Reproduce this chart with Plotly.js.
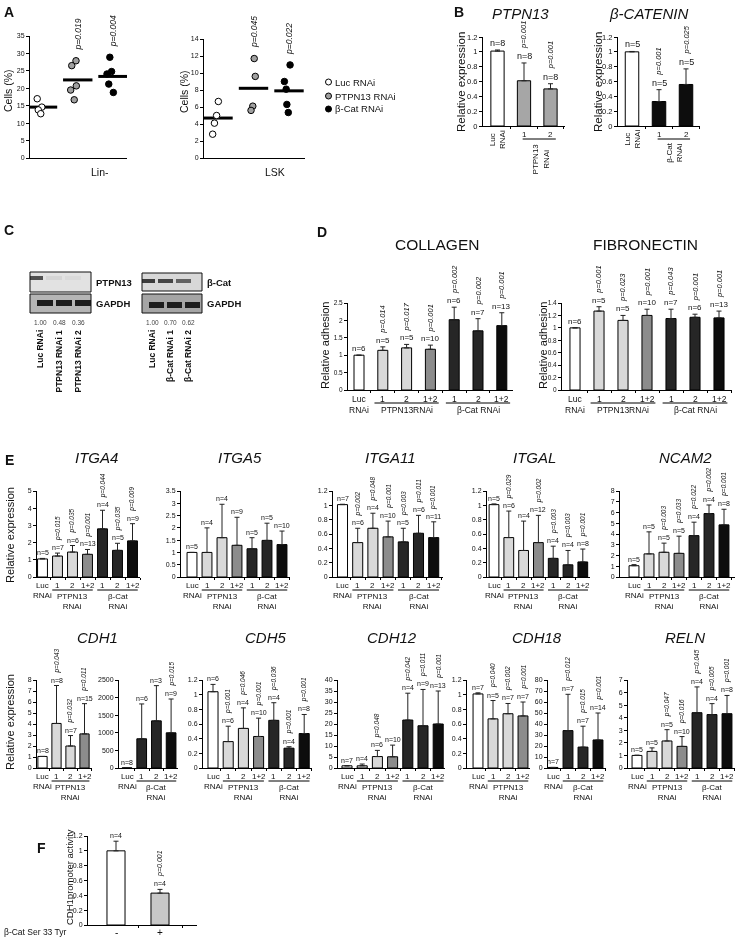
<!DOCTYPE html>
<html>
<head>
<meta charset="utf-8">
<script src="https://cdn.plot.ly/plotly-3.0.1.min.js"></script>
<style>body{margin:0;background:#fff}#fig{width:750px;height:937px;will-change:transform}</style>
</head>
<body>
<div id="fig"></div>
<script>
// ===== datos =====
// A: % de células por animal
const linPts  = [[17.0, 14.6, 13.8, 12.7], [27.9, 26.5, 20.7, 19.5, 16.7], [28.9, 24.8, 24.1, 21.2, 18.8]];
const linMean = [14.6, 22.4, 23.4];
const linP    = ['', 'p=0.019', 'p=0.004'];
const lskPts  = [[6.65, 5.0, 4.1, 2.8], [11.7, 9.6, 6.1, 5.6], [10.95, 9.0, 8.1, 6.3, 5.35]];
const lskMean = [4.7, 8.2, 7.9];
const lskP    = ['', 'p=0.045', 'p=0.022'];
const legendA = ['Luc RNAi', 'PTPN13 RNAi', 'β-Cat RNAi'];

// B
const ptpnVal = [1.01, 0.61, 0.50], ptpnErr = [0.015, 0.24, 0.07];
const ptpnN = ['n=8', 'n=8', 'n=8'], ptpnP = ['', 'p=0.001', 'p=0.001'];
const bcatVal = [1.00, 0.33, 0.56], bcatErr = [0.005, 0.16, 0.21];
const bcatN = ['n=5', 'n=5', 'n=5'], bcatP = ['', 'p=0.001', 'p=0.025'];
const labB = ['Luc<br>RNAi', '1', '2'];

// C: western blots
const quant1 = ['1.00', '0.48', '0.36'], quant2 = ['1.00', '0.70', '0.62'];
const lanes1 = ['Luc RNAi', 'PTPN13 RNAi 1', 'PTPN13 RNAi 2'];
const lanes2 = ['Luc RNAi', 'β-Cat RNAi 1', 'β-Cat RNAi 2'];
const bandPTPN13 = [0.7, 0.06, 0.04], bandGAPDH1 = [0.95, 0.95, 0.95];
const bandBCat = [0.8, 0.75, 0.6], bandGAPDH2 = [0.95, 0.95, 0.95];

// D: adhesión
const colVal = [1.0, 1.14, 1.21, 1.17, 2.02, 1.70, 1.85];
const colErr = [0, 0.10, 0.10, 0.12, 0.36, 0.35, 0.37];
const colN = ['n=6', 'n=5', 'n=5', 'n=10', 'n=6', 'n=7', 'n=13'];
const colP = ['', 'p=0.014', 'p=0.017', 'p=0.001', 'p=0.002', 'p=0.002', 'p=0.001'];
const fibVal = [1.0, 1.27, 1.12, 1.20, 1.15, 1.17, 1.16];
const fibErr = [0, 0.07, 0.08, 0.10, 0.15, 0.05, 0.11];
const fibN = ['n=6', 'n=5', 'n=5', 'n=10', 'n=7', 'n=6', 'n=13'];
const fibP = ['', 'p=0.001', 'p=0.023', 'p=0.001', 'p=0.043', 'p=0.001', 'p=0.001'];

// E: expresión relativa
const itga4Val = [1.05, 1.22, 1.45, 1.32, 2.80, 1.55, 2.10];
const itga4Err = [0.03, 0.17, 0.38, 0.28, 1.08, 0.41, 1.00];
const itga4N = ['n=5', 'n=7', 'n=6', 'n=13', 'n=4', 'n=5', 'n=9'];
const itga4P = ['', 'p=0.015', 'p=0.035', 'p=0.001', 'p=0.044', 'p=0.035', 'p=0.009'];
const itga5Val = [1.0, 1.0, 1.60, 1.29, 1.15, 1.49, 1.32];
const itga5Err = [0, 1.0, 1.36, 1.14, 0.45, 0.70, 0.55];
const itga5N = ['n=5', 'n=4', 'n=4', 'n=9', 'n=5', 'n=5', 'n=10'];
const itga5P = ['', '', '', '', '', '', ''];
const itga11Val = [1.01, 0.48, 0.68, 0.56, 0.49, 0.61, 0.55];
const itga11Err = [0.005, 0.20, 0.21, 0.22, 0.19, 0.25, 0.22];
const itga11N = ['n=7', 'n=6', 'n=4', 'n=10', 'n=5', 'n=6', 'n=11'];
const itga11P = ['', 'p=0.002', 'p=0.048', 'p=0.001', 'p=0.003', 'p=0.011', 'p=0.001'];
const itgalVal = [1.01, 0.55, 0.37, 0.48, 0.26, 0.17, 0.21];
const itgalErr = [0.01, 0.37, 0.41, 0.38, 0.17, 0.20, 0.18];
const itgalN = ['n=5', 'n=6', 'n=4', 'n=12', 'n=4', 'n=4', 'n=8'];
const itgalP = ['', 'p=0.029', '', 'p=0.002', 'p=0.003', 'p=0.003', 'p=0.001'];
const ncam2Val = [1.05, 2.15, 2.30, 2.20, 3.85, 5.90, 4.85];
const ncam2Err = [0.1, 2.05, 0.85, 1.60, 1.25, 0.80, 1.45];
const ncam2N = ['n=5', 'n=5', 'n=5', 'n=5', 'n=4', 'n=4', 'n=8'];
const ncam2P = ['', '', 'p=0.003', 'p=0.033', 'p=0.022', 'p=0.002', 'p=0.001'];

const cdh1aVal = [1.05, 4.05, 2.0, 3.1], cdh1aErr = [0, 3.45, 0.95, 2.75];
const cdh1aN = ['n=8', 'n=8', 'n=7', 'n=15'], cdh1aP = ['', 'p=0.043', 'p=0.032', 'p=0.011'];
const cdh1bVal = [5, 830, 1340, 1000], cdh1bErr = [0, 990, 1000, 960];
const cdh1bN = ['n=8', 'n=6', 'n=3', 'n=9'], cdh1bP = ['', '', '', 'p=0.015'];
const cdh5Val = [1.04, 0.36, 0.54, 0.43, 0.65, 0.27, 0.47];
const cdh5Err = [0.10, 0.21, 0.28, 0.25, 0.24, 0.02, 0.26];
const cdh5N = ['n=6', 'n=6', 'n=4', 'n=10', 'n=4', 'n=4', 'n=8'];
const cdh5P = ['', 'p=0.001', 'p=0.046', 'p=0.001', 'p=0.036', 'p=0.001', 'p=0.001'];
const cdh12Val = [1.0, 1.0, 5.2, 5.1, 21.8, 19.2, 20.0];
const cdh12Err = [0, 0.8, 2.8, 5.3, 12.2, 16.5, 15.0];
const cdh12N = ['n=7', 'n=4', 'n=6', 'n=10', 'n=4', 'n=9', 'n=13'];
const cdh12P = ['', '', 'p=0.048', '', 'p=0.042', 'p=0.011', 'p=0.001'];
const cdh18aVal = [1.01, 0.67, 0.74, 0.71], cdh18aErr = [0.015, 0.25, 0.14, 0.19];
const cdh18aN = ['n=7', 'n=5', 'n=7', 'n=7'], cdh18aP = ['', 'p=0.040', 'p=0.002', 'p=0.001'];
const cdh18bVal = [0.5, 34, 19, 25.5], cdh18bErr = [0, 33, 19, 24.5];
const cdh18bN = ['n=7', 'n=7', 'n=7', 'n=14'], cdh18bP = ['', 'p=0.012', 'p=0.015', 'p=0.001'];
const relnVal = [1.0, 1.32, 2.15, 1.72, 4.40, 4.25, 4.32];
const relnErr = [0.02, 0.28, 0.90, 0.78, 2.05, 0.87, 1.45];
const relnN = ['n=5', 'n=5', 'n=5', 'n=10', 'n=4', 'n=4', 'n=8'];
const relnP = ['', '', 'p=0.047', 'p=0.016', 'p=0.045', 'p=0.005', 'p=0.001'];

// F
const fVal = [1.0, 0.43], fErr = [0.13, 0.05], fN = ['n=4', 'n=4'], fP = ['', 'p=0.001'];
const fLab = ['-', '+'];

// etiquetas de categorías
const LAB7 = ['Luc<br>RNAi', '1', '2', '1+2', '1', '2', '1+2'];
const GRP7 = [[1, 3, 'PTPN13<br>RNAi'], [4, 6, 'β-Cat<br>RNAi']];
const GRP7D = [[1, 3, 'PTPN13RNAi'], [4, 6, 'β-Cat RNAi']];
const LAB4 = ['Luc<br>RNAi', '1', '2', '1+2'];
const GRP4P = [[1, 3, 'PTPN13<br>RNAi']];
const GRP4B = [[1, 3, 'β-Cat<br>RNAi']];

// ===== estilo =====
const FONT = 'Liberation Sans, Arial, sans-serif';
const INK = '#111';
const PAL = { w: '#ffffff', l: '#d9d9d9', m: '#8c8c8c', d: '#262626', k: '#0d0d0d', g: '#a6a6a6', f: '#c8c8c8' };
const COL7 = ['w', 'l', 'l', 'm', 'd', 'd', 'k'];
const COL4P = ['w', 'l', 'l', 'm'];
const COL4B = ['w', 'd', 'd', 'k'];
const DOT_COL = ['#ffffff', '#a0a0a0', '#000000'];
const JIT_LIN = [[-0.15, -0.02, -0.12, -0.05], [-0.05, -0.17, -0.04, -0.2, -0.1], [-0.09, -0.04, -0.17, -0.12, 0.01]];
const JIT_LSK = [[0.01, -0.04, -0.1, -0.15], [0.02, 0.05, -0.02, -0.07], [0.03, -0.13, -0.08, -0.06, -0.02]];

const W = 750, H = 937;
const fx = p => p / W;
const fy = p => 1 - p / H;

const traces = [], annotations = [], shapes = [];
const layout = {
  width: W, height: H, margin: { l: 0, r: 0, t: 0, b: 0 }, showlegend: false,
  font: { family: FONT, color: INK },
  paper_bgcolor: '#fff', plot_bgcolor: 'rgba(0,0,0,0)',
  bargap: 0
};

let axN = 0;
function addAxes(g, xr, yr, xo, yo) {
  axN++;
  const s = axN === 1 ? '' : String(axN);
  const base = { showline: true, linecolor: '#000', linewidth: 1, showgrid: false, zeroline: false,
                 tickcolor: '#000', tickfont: { size: 7, color: INK }, fixedrange: true };
  layout['xaxis' + s] = Object.assign({}, base, { domain: [fx(g.x0), fx(g.x1)], range: xr, anchor: 'y' + s }, xo);
  layout['yaxis' + s] = Object.assign({}, base, { domain: [fy(g.yBot), fy(g.yTop)], range: yr, anchor: 'x' + s,
                 ticks: 'outside', ticklen: 3 }, yo);
  return { x: 'x' + s, y: 'y' + s };
}

// anotación genérica (centrada por defecto)
function note(o) {
  const a = Object.assign({ showarrow: false, xanchor: 'center', yanchor: 'middle' }, o);
  a.font = Object.assign({ color: INK }, o.font || {});
  annotations.push(a);
}
function txt(x, y, text, size, extra) {
  note(Object.assign({ xref: 'paper', yref: 'paper', x: fx(x), y: fy(y), text: text, font: { size: size } }, extra || {}));
}

function barChart(c) {
  const g = c.g;
  const r0 = (g.x0 - g.c0) / g.s, r1 = (g.x1 - g.c0) / g.s;
  const idx = c.vals.map((_, i) => i);
  const ax = addAxes(g, [r0, r1], [0, g.ymax],
    { tickvals: idx.map(i => i + 0.5), ticks: 'outside', ticklen: 2, showticklabels: false },
    { dtick: g.dtick, tickfont: { size: g.tf || 7, color: INK } });
  traces.push({
    type: 'bar', x: idx, y: c.vals, width: g.bw || 0.66, xaxis: ax.x, yaxis: ax.y,
    marker: { color: c.cols.map(k => PAL[k]), line: { color: '#000', width: 1 } },
    error_y: { type: 'data', symmetric: false, array: c.errs, arrayminus: c.errs.map(() => 0),
               color: '#222', thickness: 1, width: g.ew || 2.5 },
    hoverinfo: 'skip'
  });
  const nf = g.nf || 7, pf = g.pf || 6.5;
  idx.forEach(i => {
    const top = c.vals[i] + c.errs[i];
    if (c.n[i]) note({ xref: ax.x, yref: ax.y, x: i, y: top, text: c.n[i], yanchor: 'bottom', font: { size: nf } });
    if (c.p[i]) note({ xref: ax.x, yref: ax.y, x: i, y: top, text: '<i>' + c.p[i] + '</i>',
      textangle: -90, yanchor: 'bottom', yshift: nf + 3, font: { size: pf } });
  });
  return ax;
}

function catLabels(ax, g, labels, groups, fs) {
  labels.forEach((t, i) => note({ xref: ax.x, yref: 'paper', x: i, y: fy(g.yBot + 2),
    yanchor: 'top', text: t, font: { size: fs } }));
  groups.forEach(([a, b, t]) => {
    shapes.push({ type: 'line', xref: ax.x, yref: 'paper', x0: a - 0.35, x1: b + 0.35,
      y0: fy(g.yBot + 13), y1: fy(g.yBot + 13), line: { color: '#000', width: 1 } });
    note({ xref: ax.x, yref: 'paper', x: (a + b) / 2, y: fy(g.yBot + 12.5),
      yanchor: 'top', text: t, font: { size: fs } });
  });
}

// ===== A =====
function dotChart(g, pts, means, jit, pv) {
  const r0 = (g.x0 - g.c0) / g.s, r1 = (g.x1 - g.c0) / g.s;
  const ax = addAxes(g, [r0, r1], [0, g.ymax], { showticklabels: false, ticks: '' }, { dtick: g.dtick });
  traces.push({ type: 'scatter', mode: 'markers', x: means.map((_, i) => i), y: means, xaxis: ax.x, yaxis: ax.y,
    marker: { symbol: 'line-ew', size: 21, line: { color: '#000', width: 3 } }, hoverinfo: 'skip' });
  pts.forEach((grp, i) => traces.push({ type: 'scatter', mode: 'markers', xaxis: ax.x, yaxis: ax.y,
    x: grp.map((_, j) => i + jit[i][j]), y: grp,
    marker: { size: 6.5, color: DOT_COL[i], line: { color: '#000', width: 1 } }, hoverinfo: 'skip' }));
  pv.forEach((p, i) => {
    if (p) note({ xref: ax.x, yref: ax.y, x: i, y: Math.max(...pts[i]), text: '<i>' + p + '</i>',
      textangle: -90, yanchor: 'bottom', yshift: 8, font: { size: 8.5 } });
  });
  return ax;
}

txt(2, 2, '<b>A</b>', 14, { xanchor: 'left', yanchor: 'top' });
dotChart({ x0: 30, x1: 127, yTop: 36, yBot: 158, c0: 42.5, s: 35.25, ymax: 35, dtick: 5 }, linPts, linMean, JIT_LIN, linP);
dotChart({ x0: 204, x1: 305, yTop: 39, yBot: 158, c0: 218, s: 35.5, ymax: 14, dtick: 2 }, lskPts, lskMean, JIT_LSK, lskP);
txt(100, 172, 'Lin-', 10.5);
txt(275, 172, 'LSK', 10.5);
txt(8, 91, 'Cells (%)', 10.5, { textangle: -90 });
txt(184, 92, 'Cells (%)', 10.5, { textangle: -90 });
[82, 96, 109].forEach((yy, i) => {
  shapes.push({ type: 'circle', xref: 'paper', yref: 'paper', x0: fx(325.5), x1: fx(331.5), y0: fy(yy + 3), y1: fy(yy - 3),
    fillcolor: DOT_COL[i], line: { color: '#000', width: 1 } });
  txt(333, yy, legendA[i], 9.5, { xanchor: 'left' });
});

// ===== B =====
txt(452, 2, '<b>B</b>', 14, { xanchor: 'left', yanchor: 'top' });
txt(520, 14, '<i>PTPN13</i>', 15);
txt(648, 14, '<i>β-CATENIN</i>', 15);
function bChart(g, vals, errs, n, p, cols, grp, gx, lx) {
  const ax = barChart({ g, vals, errs, n, p, cols });
  labB.forEach((t, i) => note({ xref: ax.x, yref: 'paper', x: i, y: fy(g.yBot + 2), yanchor: 'top',
    text: t, textangle: i === 0 ? -90 : 0, font: { size: 8 } }));
  shapes.push({ type: 'line', xref: ax.x, yref: 'paper', x0: lx[0], x1: lx[1], y0: fy(g.yBot + 13), y1: fy(g.yBot + 13),
    line: { color: '#000', width: 1 } });
  note({ xref: ax.x, yref: 'paper', x: gx, y: fy(g.yBot + 15), yanchor: 'top', text: grp,
    textangle: -90, font: { size: 8 } });
}
const gB1 = { x0: 483, x1: 565, yTop: 37, yBot: 126, c0: 497.5, s: 26.5, ymax: 1.2, dtick: 0.2, bw: 0.5, nf: 9, pf: 7.5, tf: 7.5 };
const gB2 = { x0: 618, x1: 700, yTop: 37, yBot: 126, c0: 632, s: 27, ymax: 1.2, dtick: 0.2, bw: 0.5, nf: 9, pf: 7.5, tf: 7.5 };
bChart(gB1, ptpnVal, ptpnErr, ptpnN, ptpnP, ['w', 'g', 'g'], 'PTPN13<br>RNAi', 1.64, [0.95, 2.2]);
bChart(gB2, bcatVal, bcatErr, bcatN, bcatP, ['w', 'k', 'k'], 'β-Cat<br>RNAi', 1.55, [0.95, 2.15]);
txt(461, 82, 'Relative expression', 11.5, { textangle: -90 });
txt(598, 82, 'Relative expression', 11.5, { textangle: -90 });

// ===== C =====
txt(2, 220, '<b>C</b>', 14, { xanchor: 'left', yanchor: 'top' });
function blot(g, rows, quant, lanes) {
  const r0 = (g.x0 - g.c0) / g.s, r1 = (g.x1 - g.c0) / g.s;
  const ax = addAxes(g, [r0, r1], [0, g.yBot - g.yTop], { visible: false }, { visible: false });
  rows.forEach(row => {
    shapes.push({ type: 'rect', xref: 'paper', yref: 'paper', x0: fx(g.x0), x1: fx(g.x1), y0: fy(row.bot), y1: fy(row.top),
      fillcolor: row.bg, line: { color: '#111', width: 1 }, layer: 'below' });
    traces.push({ type: 'bar', x: row.band.map((_, i) => i), y: row.band.map(() => row.h), base: row.c - row.h / 2,
      width: 0.85, xaxis: ax.x, yaxis: ax.y, hoverinfo: 'skip',
      marker: { color: row.band.map(a => 'rgba(20,20,20,' + a + ')'), line: { width: 0 } } });
    txt(g.x1 + 3, (row.top + row.bot) / 2, '<b>' + row.name + '</b>', 9.5, { xanchor: 'left' });
  });
  quant.forEach((q, i) => note({ xref: ax.x, yref: 'paper', x: i, y: fy(322), text: q, font: { size: 6.5, color: '#444' } }));
  lanes.forEach((t, i) => note({ xref: ax.x, yref: 'paper', x: i, y: fy(328), yanchor: 'top',
    text: '<b>' + t + '</b>', textangle: -90, font: { size: 8.5 } }));
}
blot({ x0: 30, x1: 91, yTop: 272, yBot: 313, c0: 40, s: 19 }, [
  { top: 272, bot: 292, bg: '#e2e2e2', c: 35, h: 3.5, band: bandPTPN13, name: 'PTPN13' },
  { top: 294, bot: 313, bg: '#b5b5b5', c: 10, h: 6, band: bandGAPDH1, name: 'GAPDH' }
], quant1, lanes1);
blot({ x0: 142, x1: 202, yTop: 272, yBot: 313, c0: 152, s: 18 }, [
  { top: 273, bot: 291, bg: '#d8d8d8', c: 32, h: 3.5, band: bandBCat, name: 'β-Cat' },
  { top: 294, bot: 313, bg: '#a5a5a5', c: 8, h: 6, band: bandGAPDH2, name: 'GAPDH' }
], quant2, lanes2);

// ===== D =====
txt(315, 222, '<b>D</b>', 14, { xanchor: 'left', yanchor: 'top' });
txt(437, 245, 'COLLAGEN', 15.5);
txt(645, 245, 'FIBRONECTIN', 15.5);
const gD1 = { x0: 348, x1: 513, yTop: 303, yBot: 390, c0: 359, s: 23.8, ymax: 2.5, dtick: 0.5, bw: 0.42, nf: 8, pf: 7.5, tf: 6.5 };
const gD2 = { x0: 562, x1: 732, yTop: 303, yBot: 390, c0: 575, s: 24, ymax: 1.4, dtick: 0.2, bw: 0.42, nf: 8, pf: 7.5, tf: 6.5 };
catLabels(barChart({ g: gD1, vals: colVal, errs: colErr, n: colN, p: colP, cols: COL7 }), gD1, LAB7, GRP7D, 8.5);
catLabels(barChart({ g: gD2, vals: fibVal, errs: fibErr, n: fibN, p: fibP, cols: COL7 }), gD2, LAB7, GRP7D, 8.5);
txt(325, 346, 'Relative adhesion', 11, { textangle: -90 });
txt(543, 346, 'Relative adhesion', 11, { textangle: -90 });

// ===== F =====
txt(35, 838, '<b>F</b>', 14, { xanchor: 'left', yanchor: 'top' });
const gF = { x0: 88, x1: 197, yTop: 836, yBot: 925, c0: 116, s: 44, ymax: 1.2, dtick: 0.2, bw: 0.41, nf: 7, pf: 7 };
const axF = barChart({ g: gF, vals: fVal, errs: fErr, n: fN, p: fP, cols: ['w', 'f'] });
fLab.forEach((t, i) => note({ xref: axF.x, yref: 'paper', x: i, y: fy(932), text: t, font: { size: 10 } }));
txt(2, 932, 'β-Cat Ser 33 Tyr', 8.5, { xanchor: 'left' });
txt(69, 877, 'CDH1promoter activity', 9.5, { textangle: -90 });

// ===== E =====
txt(3, 450, '<b>E</b>', 14, { xanchor: 'left', yanchor: 'top' });
const R1 = { yTop: 491, yBot: 577 }, R2 = { yTop: 680, yBot: 768 };
const E_CHARTS = [
  { t: 'ITGA4', tx: 96, ty: 457, g: Object.assign({ x0: 37, x1: 140, c0: 42.5, s: 15, ymax: 5, dtick: 1 }, R1),
    vals: itga4Val, errs: itga4Err, n: itga4N, p: itga4P, cols: COL7, lab: LAB7, grp: GRP7 },
  { t: 'ITGA5', tx: 240, ty: 457, g: Object.assign({ x0: 181, x1: 290, c0: 192, s: 15, ymax: 3.5, dtick: 0.5 }, R1),
    vals: itga5Val, errs: itga5Err, n: itga5N, p: itga5P, cols: COL7, lab: LAB7, grp: GRP7 },
  { t: 'ITGA11', tx: 390, ty: 457, g: Object.assign({ x0: 333, x1: 443, c0: 342.5, s: 15.2, ymax: 1.2, dtick: 0.2 }, R1),
    vals: itga11Val, errs: itga11Err, n: itga11N, p: itga11P, cols: COL7, lab: LAB7, grp: GRP7 },
  { t: 'ITGAL', tx: 534, ty: 457, g: Object.assign({ x0: 487, x1: 590, c0: 494, s: 14.8, ymax: 1.2, dtick: 0.2 }, R1),
    vals: itgalVal, errs: itgalErr, n: itgalN, p: itgalP, cols: COL7, lab: LAB7, grp: GRP7 },
  { t: 'NCAM2', tx: 685, ty: 457, g: Object.assign({ x0: 620, x1: 735, c0: 634, s: 15, ymax: 8, dtick: 1 }, R1),
    vals: ncam2Val, errs: ncam2Err, n: ncam2N, p: ncam2P, cols: COL7, lab: LAB7, grp: GRP7 },
  { t: 'CDH1', tx: 97, ty: 637, g: Object.assign({ x0: 37, x1: 92, c0: 42.5, s: 14, ymax: 8, dtick: 1 }, R2),
    vals: cdh1aVal, errs: cdh1aErr, n: cdh1aN, p: cdh1aP, cols: COL4P, lab: LAB4, grp: GRP4P },
  { g: Object.assign({ x0: 119, x1: 178, c0: 127, s: 14.7, ymax: 2500, dtick: 500 }, R2),
    vals: cdh1bVal, errs: cdh1bErr, n: cdh1bN, p: cdh1bP, cols: COL4B, lab: LAB4, grp: GRP4B },
  { t: 'CDH5', tx: 265, ty: 637, g: Object.assign({ x0: 203, x1: 312, c0: 213, s: 15.2, ymax: 1.2, dtick: 0.2 }, R2),
    vals: cdh5Val, errs: cdh5Err, n: cdh5N, p: cdh5P, cols: COL7, lab: LAB7, grp: GRP7 },
  { t: 'CDH12', tx: 392, ty: 637, g: Object.assign({ x0: 338, x1: 445, c0: 347, s: 15.2, ymax: 40, dtick: 5 }, R2),
    vals: cdh12Val, errs: cdh12Err, n: cdh12N, p: cdh12P, cols: COL7, lab: LAB7, grp: GRP7 },
  { t: 'CDH18', tx: 537, ty: 637, g: Object.assign({ x0: 467, x1: 530, c0: 478, s: 15, ymax: 1.2, dtick: 0.2 }, R2),
    vals: cdh18aVal, errs: cdh18aErr, n: cdh18aN, p: cdh18aP, cols: COL4P, lab: LAB4, grp: GRP4P },
  { g: Object.assign({ x0: 548, x1: 606, c0: 553, s: 15, ymax: 80, dtick: 10 }, R2),
    vals: cdh18bVal, errs: cdh18bErr, n: cdh18bN, p: cdh18bP, cols: COL4B, lab: LAB4, grp: GRP4B },
  { t: 'RELN', tx: 685, ty: 637, g: Object.assign({ x0: 628, x1: 735, c0: 637, s: 15, ymax: 7, dtick: 1 }, R2),
    vals: relnVal, errs: relnErr, n: relnN, p: relnP, cols: COL7, lab: LAB7, grp: GRP7 }
];
E_CHARTS.forEach(c => {
  const ax = barChart(c);
  catLabels(ax, c.g, c.lab, c.grp, 8);
  if (c.t) txt(c.tx, c.ty, '<i>' + c.t + '</i>', 15);
});
txt(10, 535, 'Relative expression', 11, { textangle: -90 });
txt(10, 722, 'Relative expression', 11, { textangle: -90 });

layout.annotations = annotations;
layout.shapes = shapes;

Plotly.newPlot('fig', traces, layout, { displayModeBar: false, staticPlot: true });
</script>
</body>
</html>
